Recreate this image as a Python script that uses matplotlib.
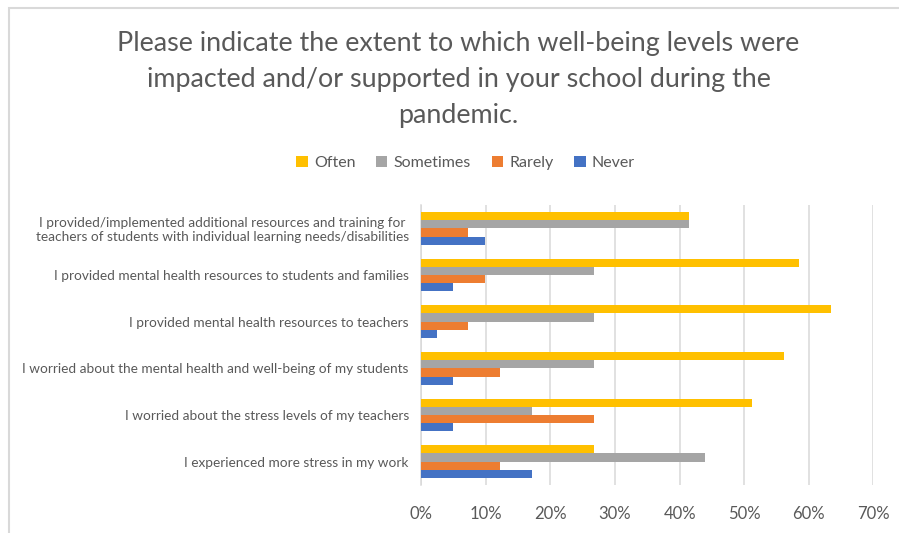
import matplotlib.pyplot as plt
import matplotlib.patches as patches
import matplotlib.ticker as ticker
import numpy as np

# Categories, bottom to top (as drawn by the original chart)
categories = [
    'I experienced more stress in my work',
    'I worried about the stress levels of my teachers',
    'I worried about the mental health and well-being of my students',
    'I provided mental health resources to teachers',
    'I provided mental health resources to students and families',
    'I provided/implemented additional resources and training for\nteachers of students with individual learning needs/disabilities',
]

# Share of respondents (%), same order as categories
often = [26.8, 51.2, 56.1, 63.4, 58.5, 41.5]
sometimes = [43.9, 17.1, 26.8, 26.8, 26.8, 41.5]
rarely = [12.2, 26.8, 12.2, 7.3, 9.8, 7.3]
never = [17.1, 4.9, 4.9, 2.4, 4.9, 9.8]

series_names = ['Often', 'Sometimes', 'Rarely', 'Never']
series_colors = ['#FFC000', '#A5A5A5', '#ED7D31', '#4472C4']
title = ('Please indicate the extent to which well-being levels were\n'
         'impacted and/or supported in your school during the\npandemic.')

text_color = '#595959'
grid_color = '#D9D9D9'
plt.rcParams['font.family'] = ['Lato', 'DejaVu Sans']

dpi = 100
fig = plt.figure(figsize=(899 / dpi, 533 / dpi), dpi=dpi)
fig.patch.set_facecolor('white')

# Chart frame (runs off the right and bottom of the picture)
frame = patches.Rectangle((9 / 899, -0.2), 1.2, 1.2 - 8 / 533,
                          transform=fig.transFigure, fill=False,
                          edgecolor=grid_color, linewidth=1.5)
fig.patches.append(frame)

ax = fig.add_axes([421.3 / 899, 1 - 485 / 533, 452 / 899, 280 / 533])

y = np.arange(len(categories))
bar_h = 0.176
offsets = [1.5 * bar_h, 0.5 * bar_h, -0.5 * bar_h, -1.5 * bar_h]
values = [often, sometimes, rarely, never]
handles = []
for vals, off, col, name in zip(values, offsets, series_colors, series_names):
    h = ax.barh(y + off, np.array(vals) / 100.0, height=bar_h, color=col,
                label=name, zorder=3)
    handles.append(h)

ax.set_xlim(0, 0.7)
ax.set_ylim(-0.5, len(categories) - 0.5)
ax.xaxis.set_major_locator(ticker.MultipleLocator(0.1))
ax.xaxis.set_major_formatter(ticker.FuncFormatter(lambda v, p: '{0:.0f}%'.format(v * 100)))
ax.grid(axis='x', color=grid_color, linewidth=1.1, zorder=0)
ax.set_yticks(y)
ax.set_yticklabels(categories, ha='right', multialignment='center')

for side in ['top', 'right', 'bottom']:
    ax.spines[side].set_visible(False)
ax.spines['left'].set_color(grid_color)
ax.spines['left'].set_linewidth(1.1)
ax.tick_params(axis='both', length=0, colors=text_color)
ax.tick_params(axis='y', labelsize=9.8, pad=9)
ax.tick_params(axis='x', labelsize=12, pad=15)

fig.text(0.51, 1 - 31 / 533, title, ha='center', va='top', fontsize=19.4,
         color=text_color, linespacing=1.55)

fig.legend(handles=handles, labels=series_names, loc='center',
           bbox_to_anchor=(0.518, 1 - 163 / 533), ncol=4, frameon=False,
           fontsize=11.5, labelcolor=text_color, handlelength=0.7,
           handleheight=0.7, handletextpad=0.4, columnspacing=1.3)

fig.savefig('out.png', dpi=dpi)
